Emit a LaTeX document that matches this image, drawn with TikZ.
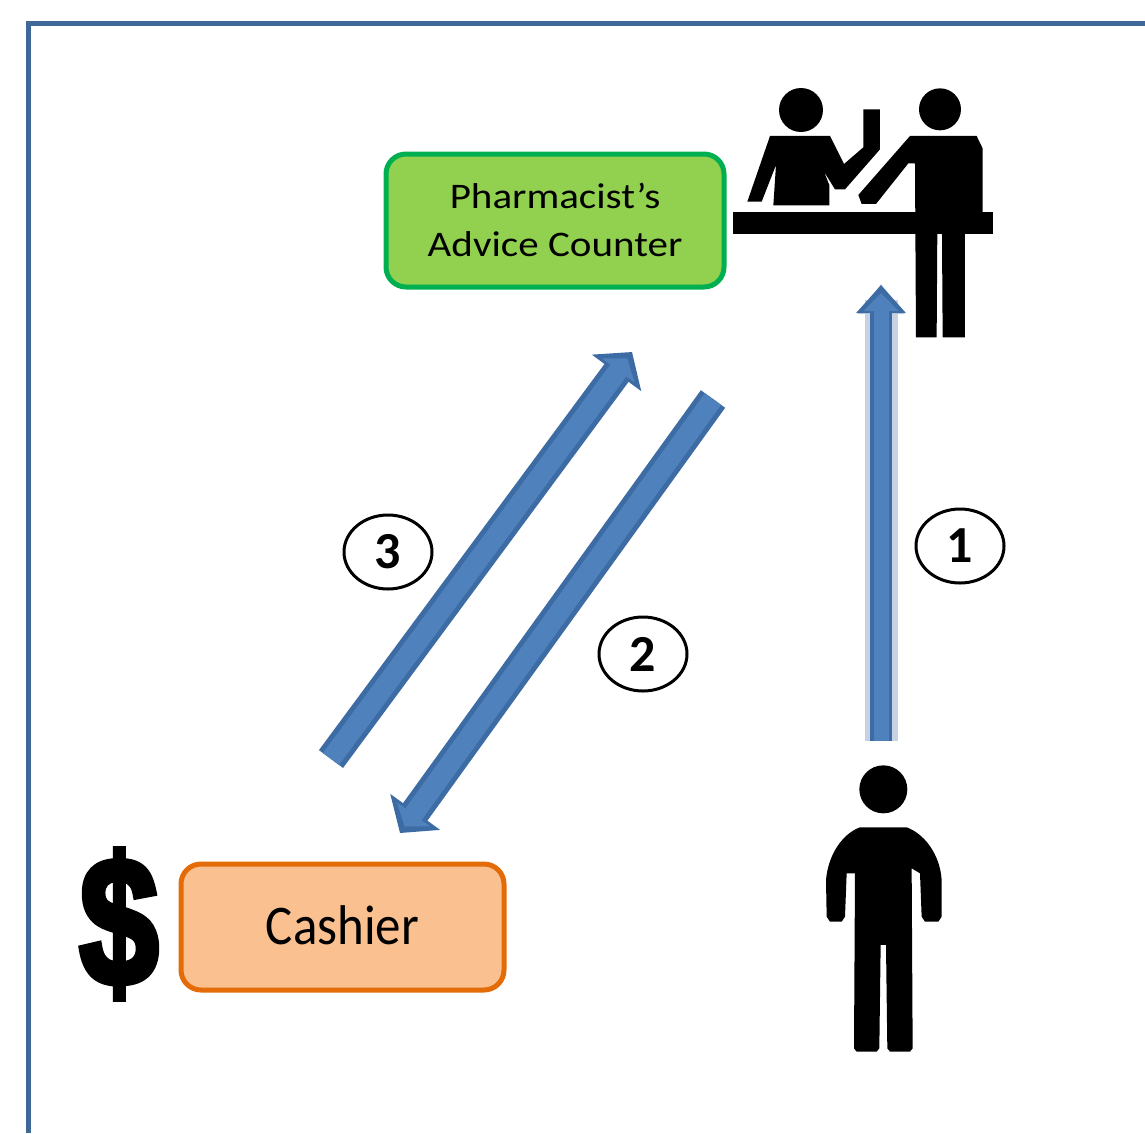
\documentclass[tikz,border=0pt]{standalone}
\usepackage{fontspec}
\setmainfont{Carlito}
\newfontfamily\dollarfont{Liberation Sans}
\usetikzlibrary{arrows.meta,shapes.geometric}
\definecolor{framec}{HTML}{3F6797}
\definecolor{arrowc}{HTML}{4F81BD}
\definecolor{arrowe}{HTML}{3D6BA3}
\definecolor{haloc}{HTML}{C6D2E4}
\definecolor{greenf}{HTML}{92D050}
\definecolor{greend}{HTML}{00B050}
\definecolor{orangef}{HTML}{FAC090}
\definecolor{oranged}{HTML}{E36C09}
\tikzset{
  boxnode/.style={draw,line width=5pt,rounded corners=20pt,align=center,inner sep=0pt,text=black},
  numnode/.style={ellipse,draw=black,line width=3pt,fill=white,minimum width=88pt,minimum height=74pt,inner sep=0pt,font=\bfseries\fontsize{52}{52}\selectfont},
  flowarrow/.style={line width=22pt,draw=arrowe,-{Triangle[length=28pt,width=48pt,fill=arrowe]},
    postaction={draw=arrowc,line width=15pt,shorten >=8pt,-{Triangle[length=18pt,width=34pt,fill=arrowc]}}},
  diagarrow/.style={line width=30pt,draw=arrowe,-{Triangle[length=26pt,width=60pt,fill=arrowe]},
    postaction={draw=arrowc,line width=20pt,shorten >=8pt,-{Triangle[length=15pt,width=40pt,fill=arrowc]}}},
  icon/.style={fill=black,draw=none},
}
\begin{document}
\begin{tikzpicture}[x=1pt,y=-1pt]
\useasboundingbox (0,0) rectangle (1145,1133);
\fill[white] (0,0) rectangle (1145,1133);
% frame
\draw[framec,line width=5pt] (28,1133) -- (28,23) -- (1145,23);
% boxes
\node[boxnode,draw=greend,fill=greenf,minimum width=338pt,minimum height=133pt,font=\fontsize{36}{48}\selectfont] (advice) at (555,220.5) {\raisebox{2pt}{\scalebox{1.14}[1]{Pharmacist's}}\\\raisebox{2pt}{\scalebox{1.14}[1]{Advice Counter}}};
\node[boxnode,draw=oranged,fill=orangef,minimum width=323pt,minimum height=126pt,font=\fontsize{56}{56}\selectfont] (cashier) at (342.5,927) {\raisebox{3pt}{\scalebox{0.91}[1]{Cashier}}};
\node[inner sep=0pt,text=black] (dollar) at (119,924) {\scalebox{0.78}[1]{\dollarfont\bfseries\fontsize{182}{182}\selectfont\special{pdf:code 2 Tr 7 w}\$\special{pdf:code 0 Tr 1 w}}};
% arrow end points
\coordinate (a1s) at (881,741);
\coordinate (a1e) at (881,285);
\coordinate (a3s) at (331,759);
\coordinate (a3e) at (632,352);
\coordinate (a2s) at (713,399);
\coordinate (a2e) at (400,833);
\draw[haloc,line width=33pt] (a1s) -- (881,300);
\fill[haloc] (881,284) -- (904,314) -- (858,314) -- cycle;
\draw[flowarrow] (a1s) -- (a1e);
\draw[diagarrow] (a3s) -- (a3e);
\draw[diagarrow] (a2s) -- (a2e);
% number labels
\node[numnode] (n1) at (960,546) {1};
\node[numnode] (n2) at (643,654) {2};
\node[numnode] (n3) at (388,552) {3};
% counter icon
\begin{scope}[shift={(720pt,-60pt)},x=0.3333pt,y=-0.3333pt]
\fill[icon] (40,456) rectangle (820,522);
\fill[icon] (243,150) circle (66);
\fill[icon] (660,148) circle (63);
\fill[icon] (150,228) -- (330,228) -- (372,312) -- (430,262) -- (430,148) -- (480,148) -- (480,268) -- (375,388) -- (345,388) -- (312,335) -- (328,375) -- (328,436) -- (160,436) -- (168,315) -- (125,425) -- (82,425) -- cycle;
\fill[icon] (570,228) -- (770,228) -- (788,265) -- (788,460) -- (735,520) -- (735,832) -- (668,832) -- (666,520) -- (652,520) -- (650,832) -- (588,832) -- (585,310) -- (565,310) -- (468,432) -- (425,432) -- (415,405) -- cycle;
\end{scope}
% standing person
\begin{scope}[shift={(780pt,-740pt)},x=0.3333pt,y=-0.3333pt]
\fill[icon] (310,148) circle (72);
\fill[icon] (240,262) -- (380,262) .. controls (430,280) and (480,340) .. (485,420) -- (485,530) -- (475,545) -- (435,545) -- (425,530) -- (420,400) -- (395,385) -- (398,925) -- (390,935) -- (330,935) -- (322,925) -- (318,615) -- (302,615) -- (298,925) -- (290,935) -- (230,935) -- (222,925) -- (225,400) -- (200,400) -- (195,530) -- (185,545) -- (150,545) -- (140,530) -- (138,420) .. controls (145,340) and (190,280) .. (240,262) -- cycle;
\end{scope}
\end{tikzpicture}
\end{document}
